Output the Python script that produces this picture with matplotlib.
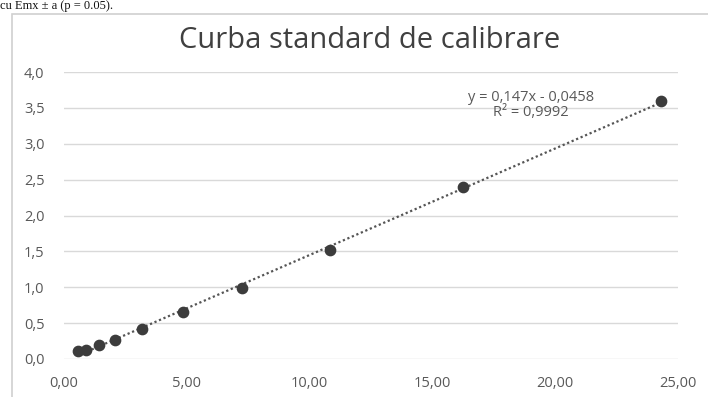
import numpy as np
import matplotlib.pyplot as plt
from matplotlib.patches import Rectangle
from matplotlib.ticker import FuncFormatter

# concentratie vs absorbanta
conc = [0.58, 0.90, 1.44, 2.08, 3.16, 4.83, 7.23, 10.83, 16.23, 24.31]
absorb = [0.106, 0.13, 0.19, 0.27, 0.42, 0.65, 0.99, 1.52, 2.40, 3.60]

title = "Curba standard de calibrare"
eq_text = "y = 0,147x - 0,0458"
r2_text = "R² = 0,9992"
top_text = "cu Emx ± a (p = 0.05)."

fig = plt.figure(figsize=(7.08, 3.97), dpi=100)
plt.rcParams['font.family'] = ['Open Sans', 'DejaVu Sans']

# rama graficului
fig.patches.append(Rectangle((12 / 708, -0.05), 1.0, 1 - 14 / 397 + 0.05,
                             transform=fig.transFigure, fill=False,
                             edgecolor='#d0d0d0', linewidth=1.2))
fig.text(0.0, 1.0, top_text, family='Liberation Serif', fontsize=9,
         color='#111111', va='top')

ax = fig.add_axes([64 / 708, 38 / 397, 614 / 708, 287 / 397])

ax.scatter(conc, absorb, s=55, color='#3c3c3c', zorder=3)

# linie de tendinta
coef = np.polyfit(conc, absorb, 1)
xs = np.array([min(conc), max(conc)])
ax.plot(xs, np.polyval(coef, xs), linestyle=(0, (1, 1.2)), color='#555555',
        linewidth=1.6, zorder=2)

ax.set_xlim(0, 25)
ax.set_ylim(0, 4)
ax.set_xticks(np.arange(0, 26, 5))
ax.set_yticks(np.arange(0, 4.01, 0.5))
ax.xaxis.set_major_formatter(FuncFormatter(lambda v, p: f"{v:.2f}".replace('.', ',')))
ax.yaxis.set_major_formatter(FuncFormatter(lambda v, p: f"{v:.1f}".replace('.', ',')))
ax.grid(True, axis='y', color='#d9d9d9', linewidth=1)
ax.set_axisbelow(True)
for s in ax.spines.values():
    s.set_visible(False)
ax.tick_params(length=0, labelsize=10.5, colors='#595959')
ax.tick_params(axis='y', pad=14)
ax.tick_params(axis='x', pad=12)

ax.text(19.0, 3.65, eq_text, ha='center', va='center', fontsize=10.5, color='#595959')
ax.text(19.0, 3.43, r2_text, ha='center', va='center', fontsize=10.5, color='#595959')

fig.text(370 / 708, 1 - 41 / 397, title, ha='center', va='center',
         fontsize=21, color='#404040')

plt.savefig("out.png", dpi=100)
